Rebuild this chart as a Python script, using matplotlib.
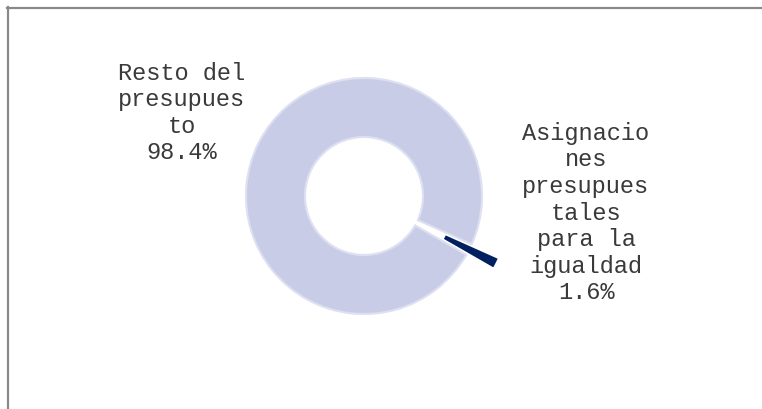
import matplotlib
matplotlib.use("Agg")
import matplotlib.pyplot as plt
from matplotlib.lines import Line2D

categories = ["Asignacio\nnes\npresupues\ntales\npara la\nigualdad", "Resto del\npresupues\nto"]
values = [1.6, 98.4]
colors = ["#002060", "#C9CCE7"]
edge_colors = ["white", "#DDE0F1"]
explode = [0.26, 0.0]

W, H = 762, 409
fig = plt.figure(figsize=(W / 100, H / 100), dpi=100)
ax = fig.add_axes([0, 0, 1, 1])

cx, cy, R = 364, 196, 118  # pixel center & radius

mid = -27.0
start = mid - values[0] / 100 * 360 / 2
wedges, _ = ax.pie(values, colors=colors, explode=explode, startangle=start,
                   counterclock=True, radius=1.0,
                   wedgeprops=dict(width=0.5, linewidth=1.5), frame=True)
for w, ec in zip(wedges, edge_colors):
    w.set_edgecolor(ec)
ax.set_aspect("auto")
ax.set_xlim(-cx / R, (W - cx) / R)
ax.set_ylim(-(H - cy) / R, cy / R)
ax.axis("off")

font = dict(family=["Liberation Mono", "DejaVu Sans Mono"], fontsize=17,
            color="#3a3a3a", ha="center", va="center", linespacing=1.2)
fig.text(182 / W, 1 - 113 / H, f"{categories[1]}\n{values[1]:.1f}%", **font)
fig.text(586 / W, 1 - 213 / H, f"{categories[0]}\n{values[0]:.1f}%", **font)

frame_color = "#898989"
fig.add_artist(Line2D([7 / W, 1], [1 - 7.5 / H, 1 - 7.5 / H], color=frame_color,
                      lw=1.6, transform=fig.transFigure))
fig.add_artist(Line2D([7.5 / W, 7.5 / W], [0, 1 - 7 / H], color=frame_color,
                      lw=1.6, transform=fig.transFigure))

fig.savefig("out.png", dpi=100)
